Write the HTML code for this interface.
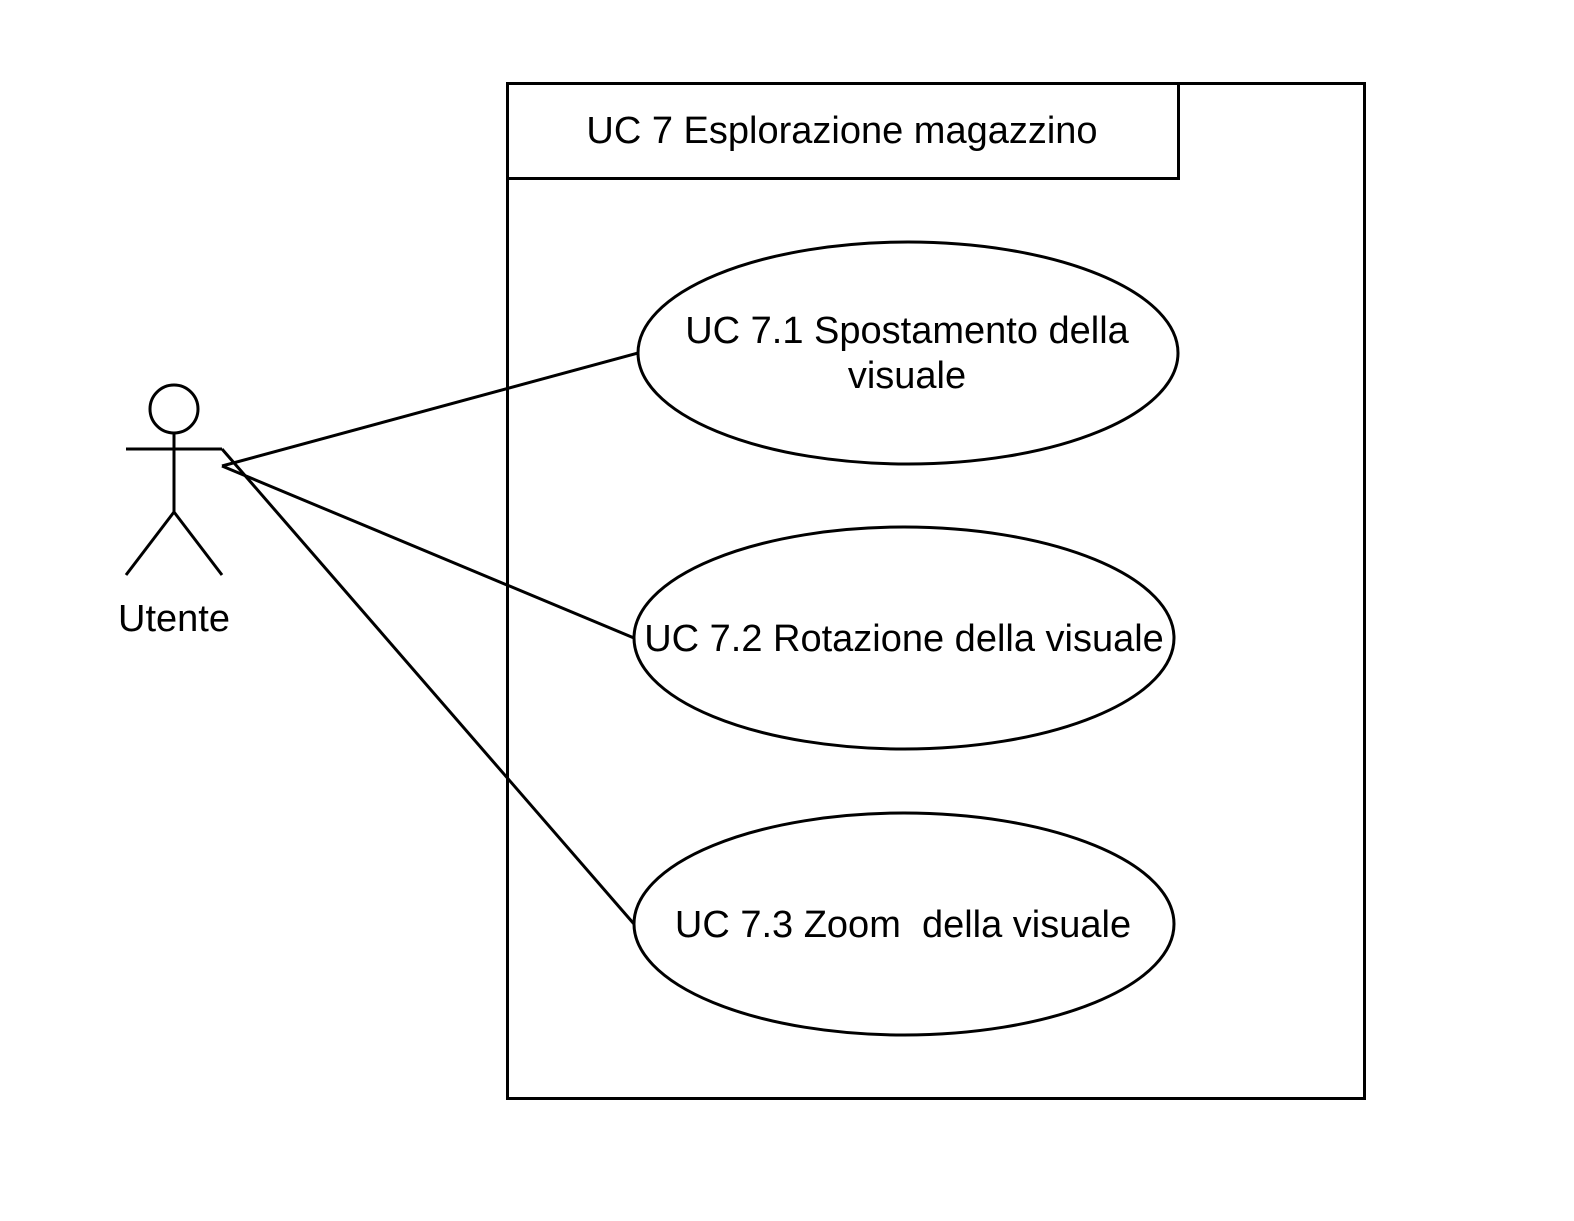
<!DOCTYPE html>
<html><head><meta charset="utf-8"><style>html,body{margin:0;padding:0;background:#fff}text{white-space:pre}</style></head>
<body>
<svg width="1574" height="1221" xmlns="http://www.w3.org/2000/svg" style="display:block" xml:space="preserve">
<rect x="0" y="0" width="1574" height="1221" fill="#fff"/>
<g fill="none" stroke="#000" stroke-width="3">
<rect x="507.5" y="83.5" width="857" height="1015"/>
<rect x="507.5" y="83.5" width="671" height="95" fill="#fff"/>
<ellipse cx="908" cy="353" rx="270" ry="111" fill="#fff"/>
<ellipse cx="904" cy="638" rx="270" ry="111" fill="#fff"/>
<ellipse cx="904" cy="924" rx="270" ry="111" fill="#fff"/>
<circle cx="174" cy="409" r="24"/>
<line x1="174" y1="433" x2="174" y2="512"/>
<line x1="126" y1="449" x2="222" y2="449"/>
<line x1="174" y1="512" x2="126" y2="575"/>
<line x1="174" y1="512" x2="222" y2="575"/>
<line x1="222" y1="466" x2="638" y2="353"/>
<line x1="222" y1="466" x2="634" y2="638"/>
<line x1="222" y1="449" x2="634" y2="924"/>
</g>
<g font-family="Liberation Sans, sans-serif" font-size="38" fill="#000" text-anchor="middle">
<text x="842" y="143">UC 7 Esplorazione magazzino</text>
<text x="907" y="343">UC 7.1 Spostamento della</text>
<text x="907" y="388">visuale</text>
<text x="904" y="651">UC 7.2 Rotazione della visuale</text>
<text x="903" y="937">UC 7.3 Zoom  della visuale</text>
<text x="174" y="631">Utente</text>
</g>
</svg>
</body></html>
